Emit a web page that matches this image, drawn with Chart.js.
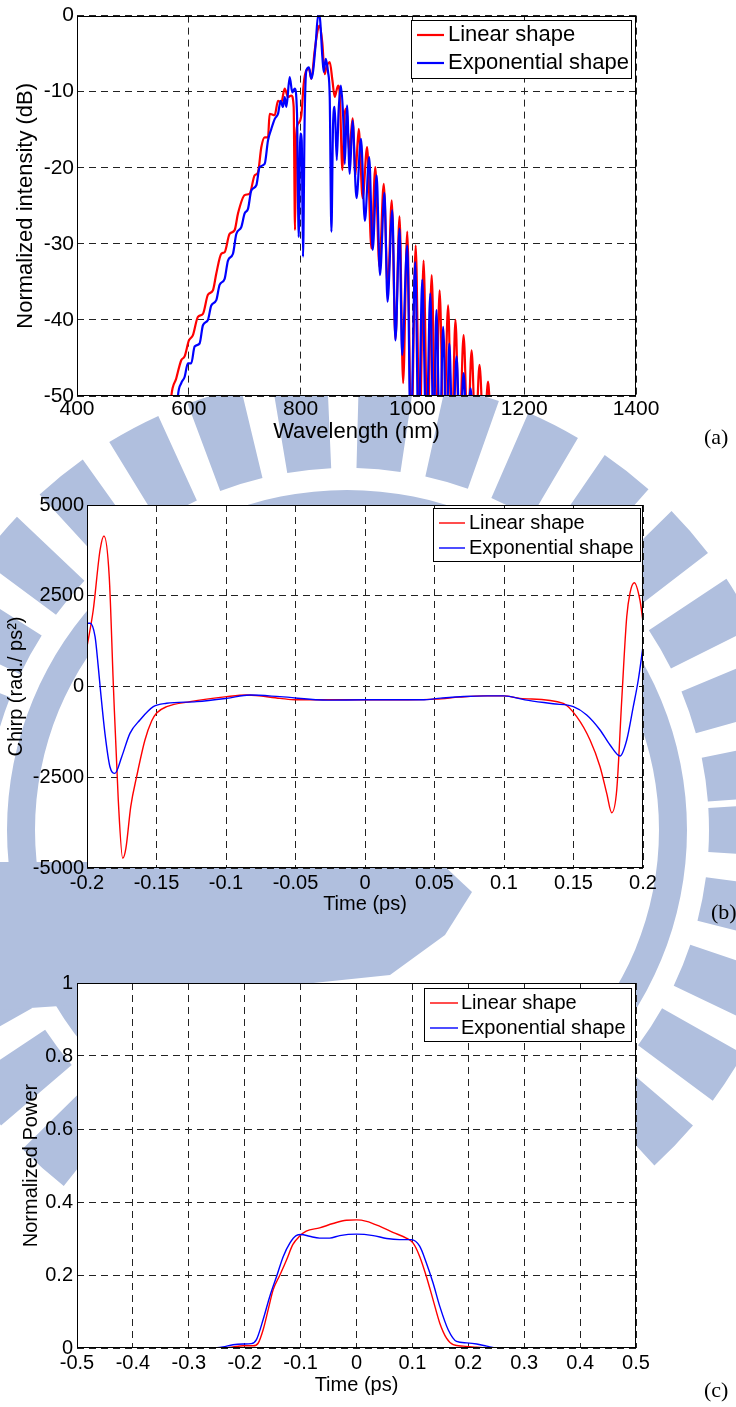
<!DOCTYPE html>
<html>
<head>
<meta charset="utf-8">
<script src="https://cdn.jsdelivr.net/npm/chart.js@4.4.0/dist/chart.umd.min.js"></script>
<style>
  html, body { margin: 0; padding: 0; background: #fff; }
  body { width: 736px; height: 1407px; position: relative; overflow: hidden; }
  .panel { position: absolute; left: 0; }
  #mark { position: absolute; left: 0; top: 0; }
  .tag { position: absolute; font-family: "Liberation Serif", "Times New Roman", serif; font-size: 22px; line-height: 22px; color: #000; }
</style>
</head>
<body>
<canvas id="mark" width="736" height="1407"></canvas>
<div class="panel" style="top:0"><canvas id="spectrum" width="736" height="445"></canvas></div>
<div class="panel" style="top:480px"><canvas id="chirp" width="736" height="440"></canvas></div>
<div class="panel" style="top:960px"><canvas id="power" width="736" height="447"></canvas></div>
<div class="tag" style="left:704px;top:426px">(a)</div>
<div class="tag" style="left:711px;top:901px">(b)</div>
<div class="tag" style="left:704px;top:1379px">(c)</div>

<script>
// Series names (same for all three panels)
const seriesNames = ["Linear shape", "Exponential shape"];

// (a) spectrum, wavelength (nm) vs normalized intensity (dB)
const specTicksX = [400, 600, 800, 1000, 1200, 1400];
const specTicksY = [-50, -40, -30, -20, -10, 0];
const linearNm = [566, 568.6, 577.5, 586.5, 592.5, 600.2, 607.4, 616.3, 625.3, 634.2, 643.2, 649.2, 658.1, 664.1,
  673, 682, 688, 699.9, 708.9, 717.8, 723.8, 729.7, 735.7, 741.7, 744.6, 753.6, 759.6, 765.5, 771.5, 777.5,
  783.4, 787.6, 790, 792.4, 795.4, 801.3, 805.5, 810.3, 815, 819.2, 825.2, 831.2, 834.2, 839, 843.1, 846.1,
  852.1, 856.9, 861, 867, 870, 874.8, 879, 882, 887, 893, 898, 904, 911, 919, 926.7, 933.6, 941, 948.7, 956,
  963, 969.7, 977, 983.4, 990.8, 998, 1005.9, 1013, 1020, 1027, 1034.5, 1041.6, 1048.7, 1056, 1063.9, 1070.5,
  1077, 1084, 1091.6, 1099, 1105.9, 1113, 1120, 1128, 1135.3, 1141];
const linearDb = [-53, -50.1, -47.7, -45.3, -44.8, -42.7, -42, -39.6, -39.2, -36.7, -36.1, -33.9, -31.3, -31.1,
  -28.7, -28.2, -26, -23.6, -23.4, -21, -20.6, -17.3, -16, -16, -12.9, -13.1, -11.2, -11.4, -9.6, -10.7,
  -10.5, -12, -28.2, -15.5, -14.2, -13.1, -9, -7.2, -7, -8.3, -4.6, -1.7, -1.3, -3.7, -7.7, -6.8,
  -6.1, -8.5, -10.7, -9.2, -10.3, -20.3, -12.9, -12.2, -18, -13.5, -21, -14.9, -24, -17.3, -30.6, -19.9, -33, -22.1, -36,
  -24.3, -42.5, -26.4, -48.3, -28.4, -56, -30.2, -56, -32.2, -56, -34.1, -56, -36.1, -56, -38.1, -56,
  -40, -56, -42, -56, -44, -56, -45.9, -56, -48.1, -56];
const expNm = [578, 580.5, 586.5, 592.5, 598.4, 604.4, 610.4, 619.3, 625.3, 634.2, 640.2, 649.2, 655.1, 664.1,
  670.1, 679, 685, 693.9, 699.9, 705.9, 711.8, 720.8, 726.7, 735.7, 741.7, 747.6, 753.6, 759.6, 764.3, 768.5,
  771.5, 774.5, 780.5, 785.2, 789.4, 793.6, 796.6, 799.6, 802, 804.3, 807.3, 810.3, 815, 819.2, 822.2, 827,
  831.2, 834.2, 839, 841.4, 845, 849.1, 852.1, 855.1, 858, 861, 864.7, 868, 872, 876, 879, 883, 887.9, 893,
  900, 908, 915, 922.7, 929, 936, 942, 950, 955.5, 964, 969.6, 977, 981.6, 990.8, 997, 1005, 1011, 1017.6,
  1025, 1032, 1038, 1043, 1049, 1055, 1061, 1066, 1072, 1079, 1085, 1091.6, 1098, 1104, 1110];
const expDb = [-53, -50, -48.3, -47.5, -45.7, -45.7, -43.5, -43.1, -40.7, -40, -38.1, -37.4, -35.4, -34.6,
  -32.2, -31.3, -28.7, -27.8, -26, -25.4, -23, -22.3, -19.9, -19.5, -16.4, -14.9, -13.6, -12.9, -11.2, -12,
  -10.7, -12, -8.1, -10.1, -9.6, -12.9, -29.1, -15.5, -16.4, -31.7, -13.3, -7.2, -6.8, -8.3, -7.4, -3.7,
  0, -0.2, -5.5, -7.4, -5.7, -7.4, -10.7, -28.4, -14.5, -12, -19, -12.5, -9.2, -13, -19.5, -11.8, -20.8, -13.8,
  -24, -16.2, -27, -18.6, -30.8, -21, -34.1, -23.3, -37.6, -25.6, -42.7, -28, -44.6, -30.2, -56, -32.4, -56, -34.7,
  -56, -36.5, -56, -38.7, -56, -40.9, -56, -43.1, -56, -44.8, -56, -47, -56, -49, -56];

// (b) chirp, time (ps) vs chirp (rad/ps^2)
const chirpTicksX = [-0.2, -0.15, -0.1, -0.05, 0, 0.05, 0.1, 0.15, 0.2];
const chirpTicksY = [-5000, -2500, 0, 2500, 5000];
const chirpLinT = [-0.2, -0.1955, -0.1906, -0.1878, -0.184, -0.181, -0.1775, -0.1743, -0.172, -0.1685, -0.1643,
  -0.1583, -0.1535, -0.1499, -0.1427, -0.1259, -0.0995, -0.085, -0.0612, -0.05, -0.0264, 0, 0.0308, 0.0511, 0.0679,
  0.0848, 0.1, 0.1115, 0.1427, 0.1523, 0.1619, 0.1691, 0.1739, 0.1775, 0.1811, 0.1847, 0.1883, 0.1906,
  0.1937, 0.1978, 0.2];
const chirpLinV = [1096, 2107, 3760, 4146, 3025, 0, -3127, -4733, -4450, -3300, -2485,
  -1474, -950, -730, -556, -418, -280, -234, -326, -367, -367, -367, -367, -349, -294,
  -257, -257, -326, -463, -831, -1474, -2210, -2943, -3476, -2851, -372, 1923, 2568,
  2860, 2383, 1785];
const chirpExpT = [-0.2, -0.1978, -0.1942, -0.1919, -0.1901, -0.1871, -0.1835, -0.1799, -0.175, -0.1691, -0.1619,
  -0.1523, -0.1427, -0.1211, -0.0995, -0.0827, -0.0612, -0.0264, 0, 0.041, 0.0544, 0.0713, 0.0881, 0.1,
  0.1151, 0.1353, 0.1499, 0.1595, 0.1691, 0.1763, 0.1835, 0.1883, 0.193, 0.1966, 0.2];
const chirpExpV = [1741, 1741, 1372, 546, -188, -1290, -2210, -2392, -1934, -1290, -923,
  -556, -463, -418, -326, -234, -280, -376, -367, -367, -321, -275, -257, -257,
  -367, -477, -556, -785, -1198, -1612, -1915, -1474, -556, 179, 1097];

// (c) normalized power vs time (ps)
const powTicksX = [-0.5, -0.4, -0.3, -0.2, -0.1, 0, 0.1, 0.2, 0.3, 0.4, 0.5];
const powTicksY = [0, 0.2, 0.4, 0.6, 0.8, 1];
const powLinT = [-0.5, -0.239, -0.221, -0.203, -0.185, -0.176, -0.167, -0.158, -0.149, -0.137, -0.125, -0.114,
  -0.102, -0.09, -0.066, -0.042, -0.018, 0, 0.018, 0.042, 0.065, 0.089, 0.101, 0.113, 0.125, 0.137, 0.149,
  0.161, 0.173, 0.191, 0.215, 0.239, 0.5];
const powLinV = [0, 0, 0.003, 0.006, 0.006, 0.013, 0.05, 0.105, 0.16, 0.2, 0.242, 0.283,
  0.306, 0.32, 0.329, 0.341, 0.35, 0.351, 0.347, 0.333, 0.317, 0.301, 0.288, 0.251, 0.196, 0.132, 0.068,
  0.027, 0.009, 0.005, 0.002, 0, 0];
const powExpT = [-0.5, -0.257, -0.239, -0.221, -0.203, -0.188, -0.179, -0.167, -0.155, -0.143, -0.131, -0.119,
  -0.108, -0.099, -0.084, -0.066, -0.048, -0.03, 0, 0.03, 0.054, 0.077, 0.098, 0.113, 0.125, 0.137, 0.149,
  0.164, 0.179, 0.197, 0.215, 0.233, 0.251, 0.5];
const powExpV = [0, 0, 0.003, 0.009, 0.011, 0.012, 0.023, 0.078, 0.142, 0.196, 0.251, 0.288,
  0.308, 0.311, 0.306, 0.301, 0.301, 0.308, 0.312, 0.308, 0.3, 0.297, 0.297, 0.279, 0.233, 0.178, 0.114,
  0.05, 0.018, 0.014, 0.011, 0.005, 0, 0];

const FONT = "'Liberation Sans', Arial, Helvetica, sans-serif";
Chart.defaults.font.family = FONT;
Chart.defaults.color = "#000";

// faint emblem printed behind the figure; the axes are white so it only shows in the margins
function drawWatermark() {
  const g = document.getElementById("mark").getContext("2d");
  const cx = 347, cy = 830;
  g.fillStyle = "rgb(176,191,222)";
  g.beginPath();
  g.arc(cx, cy, 340, 0, 2 * Math.PI);
  g.arc(cx, cy, 312, 0, 2 * Math.PI, true);
  g.fill();
  for (let deg = 0; deg < 360; deg += 11) {
    const a0 = (deg - 3.5) * Math.PI / 180;
    const a1 = (deg + 3.5) * Math.PI / 180;
    g.beginPath();
    g.arc(cx, cy, 455, a0, a1);
    g.arc(cx, cy, 362, a1, a0, true);
    g.closePath();
    g.fill();
  }
  g.beginPath();
  g.moveTo(0, 862);
  g.lineTo(440, 862);
  g.lineTo(472, 892);
  g.lineTo(445, 935);
  g.lineTo(390, 975);
  g.lineTo(150, 1000);
  g.lineTo(0, 1010);
  g.closePath();
  g.fill();
}
drawWatermark();

function toPoints(xs, ys) {
  return xs.map((x, i) => ({ x: x, y: ys[i] }));
}

// matlab-like tick text: 0.05, -0.2, 5000
function tickText(v) {
  return String(parseFloat(Number(v).toFixed(4)));
}

// white axes background, solid axes box and the boxed legend in the top right corner
const boxLegend = {
  id: "boxLegend",
  beforeDraw(chart) {
    const a = chart.chartArea;
    chart.ctx.fillStyle = "#fff";
    chart.ctx.fillRect(a.left, a.top, a.right - a.left, a.bottom - a.top);
  },
  afterDatasetsDraw(chart, args, opt) {
    const ctx = chart.ctx;
    const a = chart.chartArea;
    ctx.save();
    ctx.strokeStyle = "#000";
    ctx.lineWidth = 1;
    ctx.strokeRect(Math.round(a.left) + 0.5, Math.round(a.top) + 0.5,
      Math.round(a.right - a.left) - 1, Math.round(a.bottom - a.top) - 1);

    ctx.fillStyle = "#fff";
    ctx.fillRect(opt.x, opt.y, opt.w, opt.h);
    ctx.strokeRect(opt.x + 0.5, opt.y + 0.5, opt.w, opt.h);
    ctx.font = opt.font;
    ctx.textBaseline = "middle";
    chart.data.datasets.forEach((ds, i) => {
      const cy = opt.y + opt.rowTop + i * opt.rowGap;
      ctx.strokeStyle = ds.borderColor;
      ctx.lineWidth = opt.lineWidth;
      ctx.beginPath();
      ctx.moveTo(opt.x + opt.lineFrom, cy);
      ctx.lineTo(opt.x + opt.lineTo, cy);
      ctx.stroke();
      ctx.fillStyle = "#000";
      ctx.fillText(ds.label, opt.x + opt.textX, cy);
    });
    ctx.restore();
  },
};

function makePanel(id, p) {
  const axis = (ticks, fit, tickPad, title, titlePad, tickSize, titleSize) => ({
    type: "linear",
    min: ticks[0],
    max: ticks[ticks.length - 1],
    afterBuildTicks: (s) => { s.ticks = ticks.map((v) => ({ value: v })); },
    afterFit: fit,
    ticks: { autoSkip: false, maxRotation: 0, padding: tickPad, font: { size: tickSize }, callback: tickText },
    grid: { color: "#222", lineWidth: 1, drawTicks: false },
    border: { display: false, dash: [7, 5] },
    title: { display: true, text: title, font: { size: titleSize }, padding: titlePad },
  });

  return new Chart(document.getElementById(id), {
    type: "line",
    data: {
      datasets: [
        { label: seriesNames[0], data: toPoints(p.linX, p.linY), borderColor: "#ff0000", order: 1 },
        { label: seriesNames[1], data: toPoints(p.expX, p.expY), borderColor: "#0000ff", order: 0 },
      ],
    },
    options: {
      responsive: false,
      animation: false,
      layout: { padding: p.pad },
      elements: {
        point: { radius: 0 },
        line: { borderWidth: p.lineWidth, cubicInterpolationMode: "monotone", fill: false },
      },
      datasets: { line: { clip: 0 } },
      plugins: { legend: { display: false }, tooltip: { enabled: false }, boxLegend: p.legend },
      scales: {
        x: axis(p.ticksX, (s) => { s.height = p.xHeight; }, p.xTickPad, p.xTitle,
          { top: 0, bottom: p.xTitlePad }, p.tickSize, p.titleSize),
        y: axis(p.ticksY, (s) => { s.width = p.yWidth; }, p.yTickPad, p.yTitle,
          { top: p.yTitlePad, bottom: 0 }, p.tickSize, p.titleSize),
      },
    },
    plugins: [boxLegend],
  });
}

// (a)
makePanel("spectrum", {
  linX: linearNm, linY: linearDb, expX: expNm, expY: expDb,
  ticksX: specTicksX, ticksY: specTicksY,
  pad: { top: 15, right: 100, bottom: 0, left: 0 },
  yWidth: 77, xHeight: 49, xTickPad: 1, yTickPad: 3,
  xTitle: "Wavelength (nm)", yTitle: "Normalized intensity (dB)",
  xTitlePad: 0, yTitlePad: 13, tickSize: 21, titleSize: 22, lineWidth: 2.2,
  legend: { x: 411, y: 20, w: 220, h: 58, rowTop: 15, rowGap: 28, lineFrom: 6, lineTo: 33, textX: 37,
    font: "22px " + FONT, lineWidth: 2.2 },
});

// (b)
makePanel("chirp", {
  linX: chirpLinT, linY: chirpLinV, expX: chirpExpT, expY: chirpExpV,
  ticksX: chirpTicksX, ticksY: chirpTicksY,
  pad: { top: 25, right: 93, bottom: 0, left: 0 },
  yWidth: 87, xHeight: 52, xTickPad: 3, yTickPad: 3,
  xTitle: "Time (ps)", yTitle: "Chirp (rad./ ps\u00b2)",
  xTitlePad: 4, yTitlePad: 4, tickSize: 20, titleSize: 20, lineWidth: 1.4,
  legend: { x: 433, y: 28, w: 207, h: 53, rowTop: 15, rowGap: 25, lineFrom: 6, lineTo: 32, textX: 36,
    font: "20px " + FONT, lineWidth: 1.4 },
});

// (c)
makePanel("power", {
  linX: powLinT, linY: powLinV, expX: powExpT, expY: powExpV,
  ticksX: powTicksX, ticksY: powTicksY,
  pad: { top: 23, right: 100, bottom: 0, left: 0 },
  yWidth: 77, xHeight: 59, xTickPad: 3, yTickPad: 4,
  xTitle: "Time (ps)", yTitle: "Normalized Power",
  xTitlePad: 10, yTitlePad: 19, tickSize: 20, titleSize: 20, lineWidth: 1.4,
  legend: { x: 424, y: 28, w: 207, h: 53, rowTop: 15, rowGap: 25, lineFrom: 6, lineTo: 34, textX: 37,
    font: "20px " + FONT, lineWidth: 1.4 },
});
</script>
</body>
</html>
